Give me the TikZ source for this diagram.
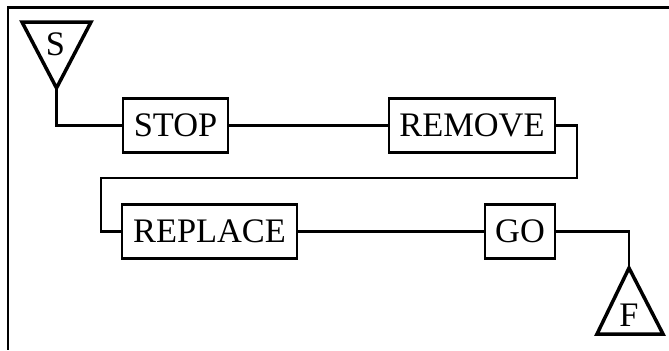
\documentclass[tikz,border=0pt]{standalone}
\usepackage{fontspec}
\setmainfont{Liberation Serif}
\begin{document}
\begin{tikzpicture}[x=1bp, y=-1bp,
            every node/.style={font=\fontsize{34.5}{38}\selectfont},
            stepbox/.style={draw, line width=2.5bp, inner sep=0pt, minimum height=54bp},
            link/.style={line width=2.2bp},
            ends/.style={line width=3.5bp, line join=miter}]
            \useasboundingbox (0,0) rectangle (669,350);
            \draw [line width=2.5bp] (669,7.5) -- (8,7.5) -- (8,350);
            \draw [ends] (22,22) -- (91,22) -- (56.5,88) -- cycle;
            \node (S) at (55.5,44) {S};
            \coordinate (Stip) at (56.5,88);
            \node [stepbox, minimum width=105bp] (stop) at (175.5,125.5) {STOP};
            \node [stepbox, minimum width=166bp] (remove) at (472,125.5) {REMOVE};
            \node [stepbox, minimum width=175bp] (replace) at (209.5,231.5) {REPLACE};
            \node [stepbox, minimum width=70bp] (go) at (520,231.5) {GO};
            \coordinate (turnR) at (577,178);
            \coordinate (turnL) at (101,178);
            \draw [ends] (629,268) -- (663,334) -- (597,334) -- cycle;
            \node (F) at (629,315.5) {F};
            \coordinate (Ftip) at (629,268);
            \draw [link] (Stip) |- (stop.west);
            \draw [link] (stop.east) -- (remove.west);
            \draw [link] (remove.east) -| (turnR) -- (turnL) |- (replace.west);
            \draw [link] (replace.east) -- (go.west);
            \draw [link] (go.east) -| (Ftip);
        \end{tikzpicture}
\end{document}
